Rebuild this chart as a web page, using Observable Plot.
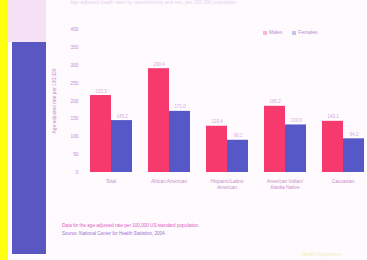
<!DOCTYPE html>
<html>
<head>
<meta charset="utf-8">
<script src="https://cdn.jsdelivr.net/npm/d3@7"></script>
<script src="https://cdn.jsdelivr.net/npm/@observablehq/plot@0.6"></script>
<style>
  html, body { margin: 0; padding: 0; }
  body { width: 367px; height: 260px; overflow: hidden; position: relative; background: #fefafe; font-family: "Liberation Sans", Arial, sans-serif; }
  .deco { position: absolute; }
  #chart { position: absolute; left: 0; top: 20px; }
  #legend { position: absolute; top: 29px; left: 263px; font-size: 5px; color: #b890c8; display: flex; gap: 10px; }
  #legend span.sw { display: inline-block; width: 4px; height: 4px; margin-right: 2px; vertical-align: middle; }
  #title { position: absolute; top: 0px; left: 70px; font-size: 5px; line-height: 5px; color: #e6d2ee; white-space: nowrap; }
  #note { position: absolute; top: 222px; left: 62px; font-size: 4.6px; line-height: 8px; white-space: nowrap; }
  #credit { position: absolute; top: 251px; left: 302px; font-size: 5px; color: #f2f0b8; white-space: nowrap; }
</style>
</head>
<body>
<div class="deco" style="left:0;top:0;width:8px;height:260px;background:#ffff10"></div>
<div class="deco" style="left:8px;top:0;width:38px;height:42px;background:#f6e0f6"></div>
<div class="deco" style="left:12px;top:42px;width:34px;height:212px;background:#5a56c2"></div>
<div id="title">Age-adjusted death rates by race/ethnicity and sex, per 100,000 population</div>
<div id="chart"></div>
<div id="legend"></div>
<div id="note">
  <div style="color:#e060c0">Data for the age-adjusted rate per 100,000 US standard population.</div>
  <div style="color:#a070d0">Source: National Center for Health Statistics, 2004.</div>
</div>
<div id="credit">Health Disparities</div>
<script>
const categories = ["Total", "African American", "Hispanic/Latino\nAmerican", "American Indian/\nAlaska Native", "Caucasian"];
const series = ["Males", "Females"];
const males = [215.3, 290.4, 129.4, 185.2, 143.1];
const females = [145.2, 171.0, 90.1, 133.0, 94.2];
const yTicks = [0, 50, 100, 150, 200, 250, 300, 350, 400];
const colors = ["#f63a6e", "#5658c8"];

const data = [];
categories.forEach((c, i) => {
  data.push({category: c, sex: series[0], value: males[i]});
  data.push({category: c, sex: series[1], value: females[i]});
});

const chart = Plot.plot({
  width: 367,
  height: 175,
  marginLeft: 85,
  marginRight: 0,
  marginTop: 9,
  marginBottom: 23,
  style: {background: "transparent", fontFamily: "Liberation Sans, Arial, sans-serif", fontSize: "5px", color: "#c890c8"},
  fx: {domain: categories, paddingInner: 0.26, paddingOuter: 0.04, label: null},
  x: {domain: series, padding: 0, axis: null},
  y: {domain: [0, 400], ticks: yTicks, label: null},
  color: {domain: series, range: colors},
  marks: [
    Plot.axisFx({anchor: "bottom", tickSize: 0, tickPadding: 6, fontSize: 4.8, fill: "#c890c8", label: null, lineHeight: 1.3}),
    Plot.axisY({ticks: yTicks, tickSize: 0, tickPadding: 11, fontSize: 4.8, fill: "#c890c8",
      label: "Age-adjusted rate per 100,000", labelAnchor: "center", labelArrow: "none", labelOffset: 37}),
    Plot.barY(data, {fx: "category", x: "sex", y: "value", fill: "sex"}),
    Plot.text(data, {fx: "category", x: "sex", y: "value", text: d => d.value.toFixed(1), dy: -3, lineAnchor: "bottom", fontSize: 4.5, fill: "#d8a8d8"})
  ]
});
document.getElementById("chart").appendChild(chart);

const legend = document.getElementById("legend");
series.forEach((s, i) => {
  const item = document.createElement("div");
  item.innerHTML = `<span class="sw" style="background:${colors[i]};opacity:0.35"></span>${s}`;
  legend.appendChild(item);
});
</script>
</body>
</html>
